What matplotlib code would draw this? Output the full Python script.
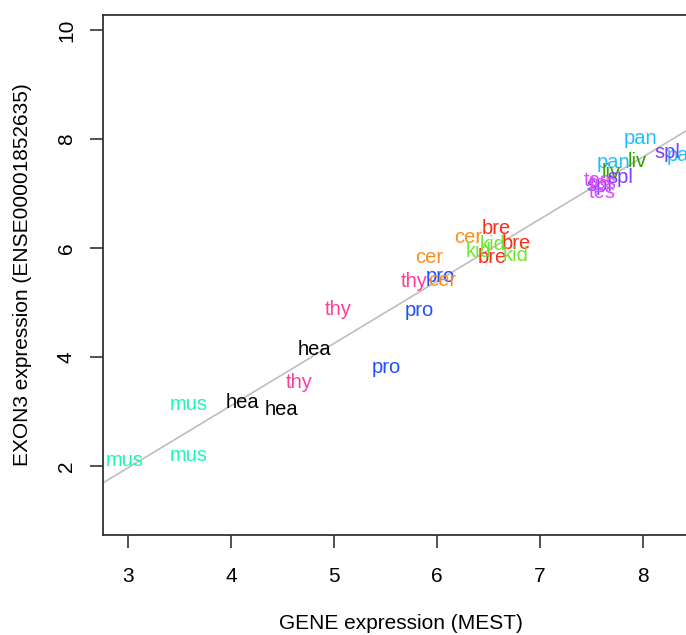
import matplotlib
matplotlib.use("Agg")
import matplotlib.pyplot as plt
import numpy as np

plt.rcParams['font.family'] = ['Liberation Sans', 'DejaVu Sans']

labels = ["mus", "mus", "mus",
          "hea", "hea", "hea",
          "thy", "thy", "thy",
          "pro", "pro", "pro",
          "cer", "cer", "cer",
          "bre", "bre", "bre",
          "kid", "kid", "kid",
          "pan", "pan", "pan",
          "liv", "liv",
          "spl", "spl", "spl",
          "tes", "tes", "tes"]
gene = [2.97, 3.59, 3.59,
        4.11, 4.49, 4.81,
        4.66, 5.04, 5.78,
        5.51, 5.83, 6.03,
        5.92, 6.05, 6.30,
        6.58, 6.77, 6.54,
        6.40, 6.54, 6.76,
        7.98, 7.71, 8.39,
        7.69, 7.94,
        8.24, 7.78, 7.58,
        7.60, 7.61, 7.56]
exon = [2.11, 3.12, 2.20,
        3.16, 3.03, 4.13,
        3.54, 4.88, 5.39,
        3.80, 4.86, 5.47,
        5.83, 5.41, 6.20,
        6.35, 6.09, 5.83,
        5.94, 6.06, 5.87,
        8.00, 7.56, 7.70,
        7.39, 7.58,
        7.76, 7.30, 7.14,
        7.01, 7.19, 7.24]
tissue_colors = {"mus": "#1EF5B4", "hea": "#000000", "thy": "#FF3D9A",
                 "pro": "#1E50FF", "cer": "#FF8C1A", "bre": "#FF2A1A",
                 "kid": "#6EE52E", "pan": "#1EBEFF", "liv": "#33A000",
                 "spl": "#7A3DFF", "tes": "#DD4DFF"}
fit_intercept = -1.456
fit_slope = 1.141

fig = plt.figure(figsize=(6.86, 6.35), dpi=100)
ax = fig.add_axes([103/686, 1-535/635, 1.02-103/686, 520/635])
x0, x1 = 2.757, 2.757 + (1.02*686-103)/103
ax.set_xlim(x0, x1)
ax.set_ylim(2 - 69/54.5, 10 + 15/54.5)

xs = np.array([x0, x1])
ax.plot(xs, fit_intercept + fit_slope*xs, color="#BEBEBE", lw=1.2, zorder=1)

for lab, gx, ey in zip(labels, gene, exon):
    ax.text(gx, ey, lab, color=tissue_colors[lab], fontsize=14.5,
            ha="center", va="center", zorder=2, clip_on=True)

ax.set_xticks([3, 4, 5, 6, 7, 8])
ax.set_yticks([2, 4, 6, 8, 10])
ax.tick_params(axis="both", direction="out", length=9.5, width=1.2,
               labelsize=15, color="#333333")
ax.tick_params(axis="x", pad=13.5)
ax.tick_params(axis="y", pad=10)
for lab in ax.get_yticklabels():
    lab.set_rotation(90)
    lab.set_va("center")
for sp in ax.spines.values():
    sp.set_linewidth(1.3)
    sp.set_color("#333333")
ax.set_xlabel("GENE expression (MEST)", fontsize=15, labelpad=20)
ax.set_ylabel("EXON3 expression (ENSE00001852635)", fontsize=15, labelpad=18)

fig.savefig("out.png", dpi=100)
